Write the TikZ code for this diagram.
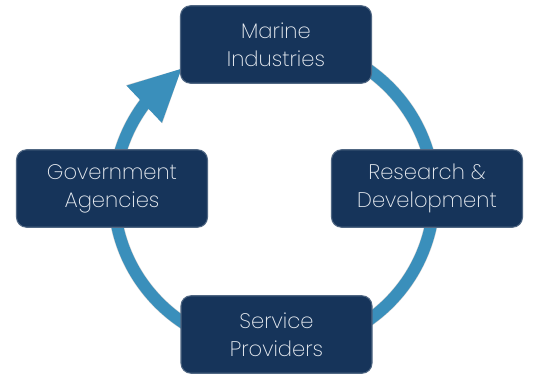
\documentclass[tikz,border=0pt]{standalone}
\usepackage{fontspec}
\setmainfont{Poppins}[UprightFont=* ExtraLight]
\usetikzlibrary{arrows.meta,bending}
\definecolor{boxblue}{HTML}{16345A}
\definecolor{ringblue}{HTML}{3A8FBB}
\definecolor{boxtext}{HTML}{E9EDF2}

\begin{document}
\begin{tikzpicture}[
	box/.style={draw=boxblue!75!white,line width=0.6pt,fill=boxblue,rounded corners=0.2cm,
		minimum width=3.82cm,minimum height=1.55cm,align=center,text=boxtext,
		font=\fontsize{12}{16}\selectfont},
	ring/.style={line width=0.24cm,draw=ringblue,-{Triangle[length=1.05cm,width=0.95cm,flex]}},
	ringshadow/.style={line width=0.26cm,draw=black,opacity=0.18,-{Triangle[length=1.05cm,width=0.97cm,flex]}}]

\useasboundingbox (0,0) rectangle (10.66,7.52);

\coordinate (c) at (5.48,3.62);

% ring with its shadow
\draw[ringshadow,xshift=0.05cm,yshift=-0.05cm] (c) ++(70:3.2 and 3.1)
	arc[start angle=70,end angle=-235,x radius=3.2,y radius=3.1];
\draw[ring] (c) ++(70:3.2 and 3.1)
	arc[start angle=70,end angle=-235,x radius=3.2,y radius=3.1];

\node[box](marine) at (5.52,6.63){Marine\\Industries};
\node[box](research) at (8.54,3.75){Research \&\\Development};
\node[box](service) at (5.53,0.83){Service\\Providers};
\node[box](government) at (2.24,3.75){Government\\Agencies};

\end{tikzpicture}
\end{document}
